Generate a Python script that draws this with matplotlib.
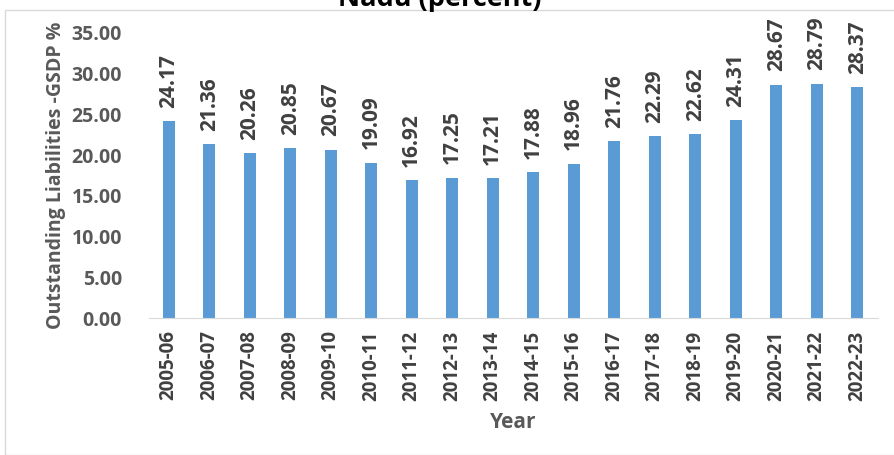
import matplotlib
matplotlib.use("Agg")
import matplotlib.pyplot as plt
from matplotlib.patches import Rectangle

years = ["2005-06", "2006-07", "2007-08", "2008-09", "2009-10", "2010-11", "2011-12",
         "2012-13", "2013-14", "2014-15", "2015-16", "2016-17", "2017-18", "2018-19",
         "2019-20", "2020-21", "2021-22", "2022-23"]
values = [24.17, 21.36, 20.26, 20.85, 20.67, 19.09, 16.92, 17.25, 17.21, 17.88,
          18.96, 21.76, 22.29, 22.62, 24.31, 28.67, 28.79, 28.37]
yticks = [0, 5, 10, 15, 20, 25, 30, 35]

plt.rcParams['font.family'] = ['Open Sans', 'DejaVu Sans']

W, H = 894, 455
fig = plt.figure(figsize=(W/100, H/100), dpi=100)
ax = fig.add_axes([148.5/W, 1-318/H, (877.5-148.5)/W, (318-33)/H])

x = list(range(len(years)))
ax.bar(x, values, width=0.3, color='#5b9bd5')
ax.set_xlim(-0.5, len(years)-0.5)
ax.set_ylim(0, 35)
ax.set_yticks(yticks)
ax.set_yticklabels([f"{v:.2f}" for v in yticks], fontsize=14, fontweight='bold', color='#595959')
ax.set_xticks(x)
ax.set_xticklabels(years, rotation=90, fontsize=13.5, fontweight='bold', color='#404040')
ax.tick_params(axis='x', length=0, pad=9)
ax.tick_params(axis='y', length=0, pad=19)
for s in ['top', 'right', 'left']:
    ax.spines[s].set_visible(False)
ax.spines['bottom'].set_color('#d9d9d9')

for xi, v in zip(x, values):
    ax.annotate(f"{v:.2f}", (xi, v), xytext=(0, 9.5), textcoords='offset points',
                rotation=90, ha='center', va='bottom', fontsize=15, fontweight='bold',
                color='#404040')

ax.set_ylabel("Outstanding Liabilities -GSDP %", fontsize=14, fontweight='bold', color='#595959', labelpad=4)
ax.set_xlabel("Year", fontsize=15, fontweight='bold', color='#595959', labelpad=8)

fig.text(440/W, 1-6/H, "Nadu (percent)", ha='center', va='baseline', fontsize=19.5, fontweight='bold', color='black')
fig.patches.append(Rectangle((5/W, 0), 1, 1-10/H, transform=fig.transFigure, fill=False,
                             edgecolor='#d9d9d9', lw=1))

fig.savefig("out.png", dpi=100)
